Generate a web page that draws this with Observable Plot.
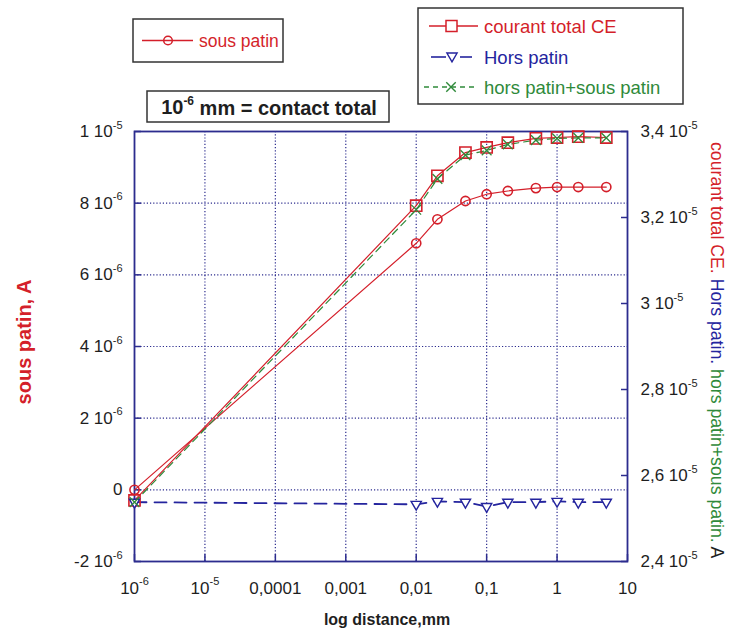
<!DOCTYPE html>
<html><head><meta charset="utf-8">
<script src="https://cdn.jsdelivr.net/npm/d3@7"></script>
<script src="https://cdn.jsdelivr.net/npm/@observablehq/plot@0.6"></script>
<style>
body{margin:0;background:#fff}
#chart svg{font-family:"Liberation Sans",Arial,sans-serif;display:block}
</style>
</head><body><div id="chart"></div>
<script>
// ---- data ----
const distances   = [1e-6, 0.01, 0.02, 0.05, 0.1, 0.2, 0.5, 1, 2, 5];
const sousPatin   = [0, 6.88e-6, 7.55e-6, 8.06e-6, 8.25e-6, 8.34e-6, 8.42e-6, 8.45e-6, 8.45e-6, 8.45e-6];
const courantTotal= [2.542e-5, 3.2275e-5, 3.297e-5, 3.351e-5, 3.363e-5, 3.374e-5, 3.384e-5, 3.386e-5, 3.388e-5, 3.386e-5];
const horsPatin   = [2.538e-5, 2.533e-5, 2.540e-5, 2.538e-5, 2.528e-5, 2.538e-5, 2.538e-5, 2.540e-5, 2.538e-5, 2.538e-5];
const horsPlusSous= [2.538e-5, 3.218e-5, 3.29e-5, 3.345e-5, 3.356e-5, 3.37e-5, 3.38e-5, 3.384e-5, 3.385e-5, 3.385e-5];

const xTicks = [1e-6, 1e-5, 1e-4, 1e-3, 1e-2, 1e-1, 1, 10];
const xTickLabels = ["10^-6", "10^-5", "0,0001", "0,001", "0,01", "0,1", "1", "10"];
const leftTicks = [-2e-6, 0, 2e-6, 4e-6, 6e-6, 8e-6, 1e-5];
const leftTickLabels = ["-2 10^-6", "0", "2 10^-6", "4 10^-6", "6 10^-6", "8 10^-6", "1 10^-5"];
const rightTicks = [2.4e-5, 2.6e-5, 2.8e-5, 3.0e-5, 3.2e-5, 3.4e-5];
const rightTickLabels = ["2,4 10^-5", "2,6 10^-5", "2,8 10^-5", "3 10^-5", "3,2 10^-5", "3,4 10^-5"];
const leftDomain = [-2e-6, 1e-5];
const rightDomain = [2.4e-5, 3.4e-5];

const seriesNames = ["sous patin", "courant total CE", "Hors patin", "hors patin+sous patin"];
const titleText = "10^-6 mm = contact total";
const xTitle = "log distance,mm";
const leftTitle = "sous patin, A";
const rightTitleParts = ["courant total CE. ", "Hors patin. ", "hors patin+sous patin. ", "A"];

// ---- styles ----
const RED = "#d41f2a", BLUE = "#24249e", GREEN = "#2f8a3a", NAVY = "#2c2c8e", INK = "#1e1e1e";

// map a right-axis value onto the left-axis scale
const toLeft = v => leftDomain[0] + (v - rightDomain[0]) * (leftDomain[1] - leftDomain[0]) / (rightDomain[1] - rightDomain[0]);
const rightPositions = rightTicks.map(toLeft);

const rows = distances.map((d, i) => ({d, sous: sousPatin[i], total: courantTotal[i], hors: horsPatin[i], somme: horsPlusSous[i]}));

const plot = Plot.plot({
  width: 729, height: 637,
  marginLeft: 134, marginRight: 102, marginTop: 131, marginBottom: 76,
  style: {fontFamily: '"Liberation Sans", Arial, sans-serif', fontSize: "17px", color: INK, background: "white", overflow: "visible"},
  x: {type: "log", domain: [xTicks[0], xTicks[xTicks.length - 1]]},
  y: {domain: leftDomain},
  marks: [
    Plot.gridX(xTicks.slice(1, -1), {stroke: NAVY, strokeOpacity: 1, strokeWidth: 1.2, strokeDasharray: "1.2,2"}),
    Plot.gridY(leftTicks.slice(1, -1), {stroke: NAVY, strokeOpacity: 1, strokeWidth: 1.2, strokeDasharray: "1.2,2"}),
    Plot.axisX(xTicks, {anchor: "bottom", tickSize: -7, tickPadding: 27, stroke: NAVY, strokeWidth: 1.5, label: null,
      tickFormat: d => xTickLabels[xTicks.indexOf(d)]}),
    Plot.axisY(leftTicks, {anchor: "left", tickSize: -7, tickPadding: 19, stroke: NAVY, strokeWidth: 1.5, label: null,
      tickFormat: d => leftTickLabels[leftTicks.indexOf(d)]}),
    Plot.axisY(rightPositions, {anchor: "right", tickSize: -7, tickPadding: 20, stroke: NAVY, strokeWidth: 1.5, label: null,
      tickFormat: d => rightTickLabels[rightPositions.indexOf(d)]}),
    Plot.frame({stroke: NAVY, strokeWidth: 1.8}),
    Plot.line(rows, {x: "d", y: "sous", stroke: RED, strokeWidth: 1.2}),
    Plot.line(rows, {x: "d", y: r => toLeft(r.total), stroke: RED, strokeWidth: 1.2}),
    Plot.line(rows, {x: "d", y: r => toLeft(r.hors), stroke: BLUE, strokeWidth: 1.8, strokeDasharray: "12,8"}),
    Plot.line(rows, {x: "d", y: r => toLeft(r.somme), stroke: GREEN, strokeWidth: 1.2, strokeDasharray: "7,5"}),
    Plot.dot(rows, {x: "d", y: "sous", symbol: "circle", r: 4.6, stroke: RED, fill: "none", strokeWidth: 1.6}),
    Plot.dot(rows, {x: "d", y: r => toLeft(r.total), symbol: "square", r: 6.3, stroke: RED, fill: "none", strokeWidth: 1.6}),
    Plot.dot(rows, {x: "d", y: r => toLeft(r.hors), symbol: "triangle", rotate: 180, r: 3.8, stroke: BLUE, fill: "white", strokeWidth: 1.4}),
    Plot.dot(rows, {x: "d", y: r => toLeft(r.somme), symbol: "times", r: 4.5, stroke: GREEN, strokeWidth: 1.3})
  ]
});
document.getElementById("chart").append(plot);

const svg = d3.select(plot);

// superscripts: "a^b" -> a + raised b
function supify(sel, supSize) {
  sel.each(function () {
    const s = this.textContent;
    if (!s.includes("^")) return;
    const idx = s.indexOf("^");
    const base = s.slice(0, idx);
    const rest = s.slice(idx + 1);
    const m = rest.match(/^(-?\d+)(.*)$/);
    const exp = m ? m[1] : rest, tail = m ? m[2] : "";
    const t = d3.select(this);
    t.text(null);
    t.append("tspan").text(base);
    t.append("tspan").attr("font-size", supSize).attr("dy", "-0.75em").text(exp);
    if (tail) t.append("tspan").attr("dy", "0.52em").text(tail);
  });
}
supify(svg.selectAll("text"), "11px");

const g = svg.append("g").attr("text-anchor", "start");

// axis titles
g.append("text").attr("transform", "translate(26,342) rotate(-90)")
  .attr("text-anchor", "middle").attr("dominant-baseline", "middle")
  .attr("font-weight", "bold").attr("font-size", 20).attr("fill", RED).text(leftTitle);

g.append("text").attr("x", 387).attr("y", 625).attr("text-anchor", "middle")
  .attr("font-weight", "bold").attr("font-size", 16).attr("fill", INK).text(xTitle);

const rt = g.append("text").attr("transform", "translate(711,142) rotate(90)")
  .attr("font-size", 17.7).attr("text-anchor", "start");
const rcol = [RED, BLUE, GREEN, INK];
rightTitleParts.forEach((p, i) => rt.append("tspan").attr("fill", rcol[i]).text(p));

// legend 1
g.append("rect").attr("x", 133).attr("y", 19).attr("width", 150).attr("height", 43)
  .attr("fill", "white").attr("stroke", "#333").attr("stroke-width", 1.5);
g.append("line").attr("x1", 142).attr("x2", 193).attr("y1", 40.5).attr("y2", 40.5).attr("stroke", RED).attr("stroke-width", 1.3);
g.append("circle").attr("cx", 168).attr("cy", 40.5).attr("r", 4.3).attr("fill", "none").attr("stroke", RED).attr("stroke-width", 1.5);
g.append("text").attr("x", 199).attr("y", 46.5).attr("font-size", 17.5).attr("fill", RED).text(seriesNames[0]);

// title box
g.append("rect").attr("x", 147).attr("y", 91).attr("width", 242).attr("height", 31)
  .attr("fill", "white").attr("stroke", "#333").attr("stroke-width", 1.5);
const tt = g.append("text").attr("x", 269).attr("y", 114).attr("text-anchor", "middle")
  .attr("font-weight", "bold").attr("font-size", 20).attr("fill", INK).text(titleText);
supify(tt, "12px");

// legend 2
g.append("rect").attr("x", 418).attr("y", 8).attr("width", 265).attr("height", 96)
  .attr("fill", "white").attr("stroke", "#333").attr("stroke-width", 1.5);
// row 1
g.append("line").attr("x1", 429).attr("x2", 478).attr("y1", 26).attr("y2", 26).attr("stroke", RED).attr("stroke-width", 1.3);
g.append("rect").attr("x", 446).attr("y", 20.5).attr("width", 11).attr("height", 11).attr("fill", "white").attr("stroke", RED).attr("stroke-width", 1.5);
g.append("text").attr("x", 484).attr("y", 32.5).attr("font-size", 18.5).attr("fill", RED).text(seriesNames[1]);
// row 2
g.append("line").attr("x1", 431).attr("x2", 446).attr("y1", 57).attr("y2", 57).attr("stroke", BLUE).attr("stroke-width", 1.6);
g.append("line").attr("x1", 460).attr("x2", 472).attr("y1", 57).attr("y2", 57).attr("stroke", BLUE).attr("stroke-width", 1.6);
g.append("path").attr("transform", "translate(452,56) rotate(180)").attr("d", d3.symbol(d3.symbolTriangle, 45)())
  .attr("fill", "white").attr("stroke", BLUE).attr("stroke-width", 1.4);
g.append("text").attr("x", 484).attr("y", 63.5).attr("font-size", 18.5).attr("fill", BLUE).text(seriesNames[2]);
// row 3
g.append("line").attr("x1", 424).attr("x2", 478).attr("y1", 87).attr("y2", 87).attr("stroke", GREEN).attr("stroke-width", 1.3).attr("stroke-dasharray", "5,4");
g.append("path").attr("transform", "translate(451,87)").attr("d", d3.symbol(d3.symbolTimes, 60)())
  .attr("fill", "none").attr("stroke", GREEN).attr("stroke-width", 1.4);
g.append("text").attr("x", 484).attr("y", 93.5).attr("font-size", 18.5).attr("fill", GREEN).text(seriesNames[3]);
</script>
</body></html>
